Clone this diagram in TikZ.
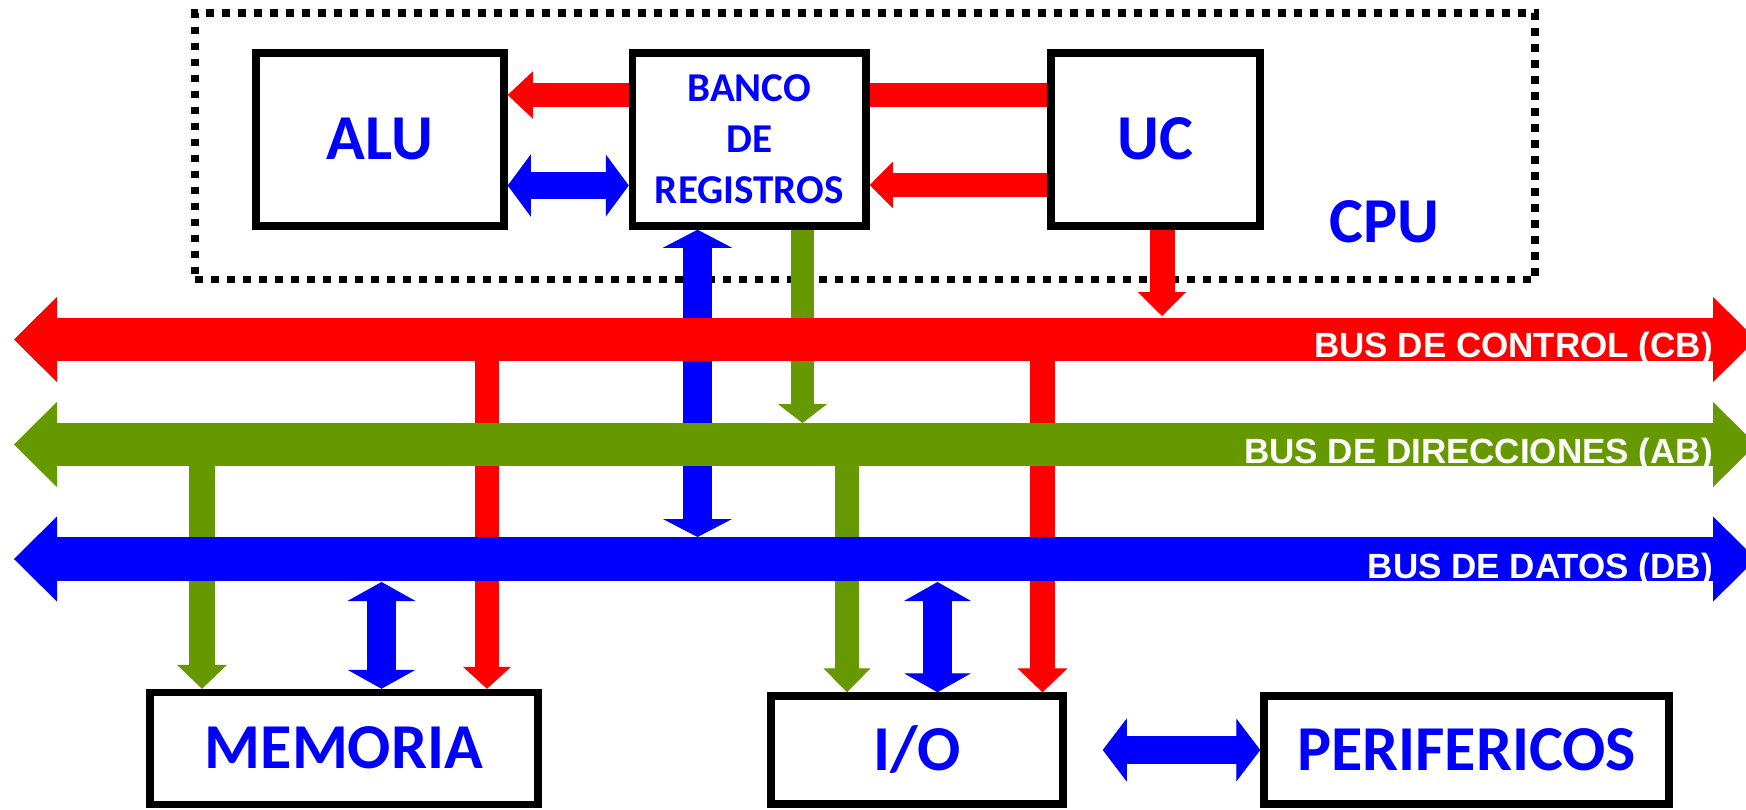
\documentclass[tikz,border=0pt]{standalone}
\usepackage{fontspec}
\setmainfont{Carlito}
\newfontfamily\busfont{Liberation Sans}
\usetikzlibrary{arrows.meta}
\definecolor{cblue}{RGB}{0,0,255}
\definecolor{cred}{RGB}{255,0,0}
\definecolor{cgreen}{RGB}{102,153,0}
\tikzset{
  blockbox/.style={draw=black, fill=white, line width=7.5pt, text=cblue,
    font=\fontsize{64}{64}\selectfont\bfseries, text height=40.4pt, text depth=0pt, inner sep=0pt},
  onearrow/.style n args={3}{line width=#1, -{Triangle[width=#2,length=#3,line width=1pt]}},
  twoarrow/.style n args={3}{line width=#1,
    {Triangle[width=#2,length=#3,line width=1pt]}-{Triangle[width=#2,length=#3,line width=1pt]}},
  buslabel/.style={text=white, font=\fontsize{35}{35}\selectfont\busfont\bfseries, inner sep=0pt, anchor=base east},
}
\begin{document}
\begin{tikzpicture}[x=1pt,y=-1pt]
\useasboundingbox (0,0) rectangle (1746,809);

% CPU frame
\node[draw=black, line width=7.5pt, dash pattern=on 7.5pt off 8.5pt,
  minimum width=1340pt, minimum height=266.5pt, inner sep=0pt] (cpu) at (865,146.25) {};
\node[text=cblue, font=\fontsize{64}{64}\selectfont\bfseries, text height=40.4pt, text depth=0pt, inner sep=0pt]
  (cpulabel) at (1384.5,222) {CPU};

% boxes
\node[blockbox, minimum width=248pt, minimum height=173pt] (alu) at (380,139.5) {ALU};
\node[blockbox, minimum width=233.5pt, minimum height=173pt, text height=, text depth=,
  font=\fontsize{41}{51}\selectfont\bfseries, align=center] (banco) at (749.25,139.5) {BANCO\\DE\\REGISTROS};
\node[blockbox, minimum width=209pt, minimum height=173pt] (uc) at (1155.5,139.5) {UC};
\node[blockbox, minimum width=388pt, minimum height=112pt] (mem) at (344,748.5) {MEMORIA};
\node[blockbox, minimum width=292pt, minimum height=108pt] (io) at (917,750) {I/O};
\node[blockbox, minimum width=405pt, minimum height=108pt] (perif) at (1466.5,750) {PERIFERICOS};

% bus edges
\coordinate (cbT) at (0,316);
\coordinate (cbB) at (0,361);
\coordinate (abT) at (0,423);
\coordinate (abB) at (0,466);
\coordinate (dbT) at (0,537);
\coordinate (dbB) at (0,582);
\coordinate (cbL) at (14,339.5);
\coordinate (cbR) at (1756,339.5);
\coordinate (abL) at (14,444.5);
\coordinate (abR) at (1756,444.5);
\coordinate (dbL) at (14,559);
\coordinate (dbR) at (1756,559);

% arrows inside CPU
\draw[cred, onearrow={24pt}{47pt}{25pt}] ([yshift=44.5pt]banco.west) -- ([yshift=44.5pt]alu.east);
\draw[cred, line width=24pt] ([yshift=44.5pt]uc.west) -- ([yshift=44.5pt]banco.east);
\draw[cred, onearrow={24pt}{46pt}{23pt}] ([yshift=-45.5pt]uc.west) -- ([yshift=-45.5pt]banco.east);
\draw[cblue, twoarrow={27pt}{62pt}{23pt}] ([yshift=-46pt]alu.east) -- ([yshift=-46pt]banco.west);

% CPU to buses
\draw[cblue, twoarrow={29pt}{69pt}{18pt}] ([xshift=-51.75pt]banco.south) -- ([xshift=-51.75pt]banco.south |- dbT);
\draw[cgreen, onearrow={23pt}{49pt}{19pt}] ([xshift=53.25pt]banco.south) -- ([xshift=53.25pt]banco.south |- abT);
\draw[cred, onearrow={25pt}{48pt}{24pt}] ([xshift=6.5pt]uc.south) -- ([xshift=6.5pt]uc.south |- cbT);

% buses to memory
\draw[cred, onearrow={24pt}{48pt}{22pt}] ([xshift=143pt]mem.north |- cbB) -- ([xshift=143pt]mem.north);
\draw[cgreen, onearrow={26pt}{50pt}{24pt}] ([xshift=-142pt]mem.north |- abB) -- ([xshift=-142pt]mem.north);
\draw[cblue, twoarrow={29pt}{68pt}{19pt}] ([xshift=37.5pt]mem.north |- dbB) -- ([xshift=37.5pt]mem.north);

% buses to I/O
\draw[cgreen, onearrow={24pt}{47pt}{24pt}] ([xshift=-70pt]io.north |- abB) -- ([xshift=-70pt]io.north);
\draw[cblue, twoarrow={29pt}{67pt}{19pt}] ([xshift=20.5pt]io.north |- dbB) -- ([xshift=20.5pt]io.north);
\draw[cred, onearrow={25pt}{50pt}{24pt}] ([xshift=125.5pt]io.north |- cbB) -- ([xshift=125.5pt]io.north);

% I/O <-> perifericos
\coordinate (iogap) at ([xshift=36pt]io.east);
\draw[cblue, twoarrow={28pt}{63pt}{24pt}] (iogap) -- (perif.west);

% buses
\draw[cred, twoarrow={43pt}{85pt}{43pt}] (cbL) -- (cbR);
\draw[cgreen, twoarrow={43pt}{85pt}{43pt}] (abL) -- (abR);
\draw[cblue, twoarrow={44pt}{85pt}{43pt}] (dbL) -- (dbR);

\node[buslabel] (cblabel) at (1713,357) {BUS DE CONTROL (CB)};
\node[buslabel] (ablabel) at (1713,463) {BUS DE DIRECCIONES (AB)};
\node[buslabel] (dblabel) at (1713,578) {BUS DE DATOS (DB)};
\end{tikzpicture}
\end{document}
